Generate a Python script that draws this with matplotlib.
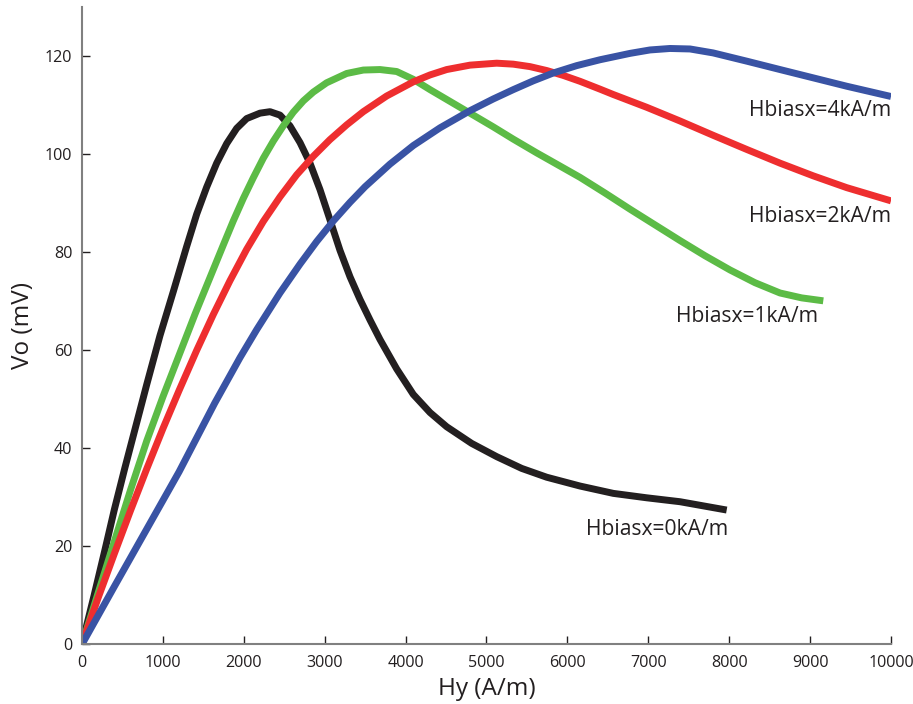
import matplotlib
matplotlib.use('Agg')
import matplotlib.pyplot as plt

plt.rcParams['font.family'] = ['Open Sans', 'DejaVu Sans']

# Hbiasx = 0 kA/m
hy_0 = [0, 150, 280, 400, 530, 800, 964, 1129, 1294, 1418, 1541, 1665, 1789,
        1912, 2036, 2200, 2324, 2448, 2571, 2695, 2818, 2942, 3066, 3189, 3313,
        3436, 3560, 3684, 3890, 4095, 4302, 4508, 4817, 5126, 5435, 5744, 6156,
        6568, 6980, 7392, 7969]
vo_0 = [0, 10, 19, 27.5, 36, 53, 63, 72, 81.2, 87.8, 93.3, 98.2, 102.2,
        105.3, 107.3, 108.4, 108.7, 108, 105.8, 102.4, 98.2, 92.8, 86.6, 80.4, 75,
        70.4, 66.2, 62.2, 56.2, 51, 47.3, 44.4, 41.0, 38.3, 35.9, 34.1, 32.3,
        30.8, 29.9, 29.1, 27.4]

# Hbiasx = 1 kA/m
hy_1 = [0, 200, 400, 600, 800, 1000, 1200, 1400, 1623, 1747, 1870, 1994, 2117,
        2241, 2365, 2488, 2612, 2736, 2859, 3024, 3272, 3478, 3684, 3890, 4096,
        4302, 4549, 4796, 5084, 5331, 5620, 5867, 6156, 6465, 6774, 7083, 7392,
        7701, 8010, 8319, 8628, 8896, 9163]
vo_1 = [0, 10.5, 21, 31.5, 41.5, 50.5, 59, 67.5, 76.5, 81.5, 86.4, 91, 95.2,
        99.2, 102.7, 105.8, 108.6, 110.9, 112.7, 114.6, 116.5, 117.2, 117.3, 116.9, 115.3,
        113.2, 110.8, 108.4, 105.6, 103.1, 100.3, 98, 95.3, 92.1, 88.8, 85.6, 82.4,
        79.3, 76.4, 73.8, 71.7, 70.7, 70.1]

# Hbiasx = 2 kA/m
hy_2 = [0, 200, 400, 600, 800, 1000, 1200, 1418, 1623, 1829, 2035, 2241, 2447,
        2653, 2859, 3065, 3271, 3477, 3766, 4096, 4302, 4508, 4796, 5126, 5331,
        5537, 5744, 5949, 6156, 6403, 6568, 6980, 7392, 7799, 8216, 8628, 9040,
        9452, 10000]
vo_2 = [0, 9.5, 18.5, 27.3, 35.8, 44, 51.8, 60, 67.3, 74.2, 80.6, 86.3, 91.3,
        95.8, 99.6, 103, 106, 108.7, 111.9, 114.8, 116.2, 117.3, 118.2, 118.6, 118.4,
        117.9, 117.1, 116.1, 114.9, 113.3, 112.2, 109.6, 106.8, 103.9, 101, 98.2, 95.6,
        93.2, 90.5]

# Hbiasx = 4 kA/m
hy_4 = [0, 400, 800, 1200, 1640, 1953, 2159, 2447, 2695, 2901, 3107, 3313,
        3500, 3807, 4096, 4425, 4796, 5084, 5331, 5579, 5826, 6115, 6403, 6774,
        7021, 7268, 7516, 7800, 8220, 8628, 9040, 9452, 10000]
vo_4 = [0, 11.8, 23.5, 35.2, 49.2, 58.5, 64.2, 71.7, 77.6, 82.2, 86.4, 90.2,
        93.4, 98, 101.8, 105.4, 108.9, 111.3, 113.2, 115, 116.6, 118.1, 119.3, 120.6,
        121.3, 121.6, 121.5, 120.7, 119, 117.3, 115.6, 113.9, 111.8]

labels = ['Hbiasx=0kA/m', 'Hbiasx=1kA/m', 'Hbiasx=2kA/m', 'Hbiasx=4kA/m']
label_pos = [(7985, 23.5), (9100, 66.9), (10000, 87.3), (10000, 109)]
colors = ['#231f20', '#5cbb46', '#ee2e2f', '#3953a4']

fig = plt.figure(figsize=(9.13, 7.04), dpi=100)
ax = fig.add_axes([0.0898, 0.0848, 0.8861, 0.9048])

series = [(hy_0, vo_0), (hy_1, vo_1), (hy_2, vo_2), (hy_4, vo_4)]
for (hx, vy), c in zip(series, colors):
    ax.plot(hx, vy, color=c, lw=5, solid_capstyle='butt', solid_joinstyle='round')

for txt, (tx, ty) in zip(labels, label_pos):
    ax.text(tx, ty, txt, ha='right', va='center', fontsize=15.2, color='#231f20')

ax.set_xlim(0, 10000)
ax.set_ylim(0, 130)
ax.set_xticks(range(0, 10001, 1000))
ax.set_yticks(range(0, 121, 20))

for s in ['top', 'right']:
    ax.spines[s].set_visible(False)
for s in ['left', 'bottom']:
    ax.spines[s].set_color('#808080')
    ax.spines[s].set_linewidth(1.5)
ax.tick_params(direction='in', length=6, width=1, color='#231f20',
               labelsize=11.6, labelcolor='#231f20')
ax.tick_params(axis='x', pad=8)
ax.tick_params(axis='y', pad=7)

ax.set_xlabel('Hy (A/m)', fontsize=17.5, color='#231f20')
ax.set_ylabel('Vo (mV)', fontsize=17.5, color='#231f20')
ax.xaxis.set_label_coords(0.5, -0.051)
ax.yaxis.set_label_coords(-0.058, 0.5)

fig.savefig('out.png', dpi=100)
